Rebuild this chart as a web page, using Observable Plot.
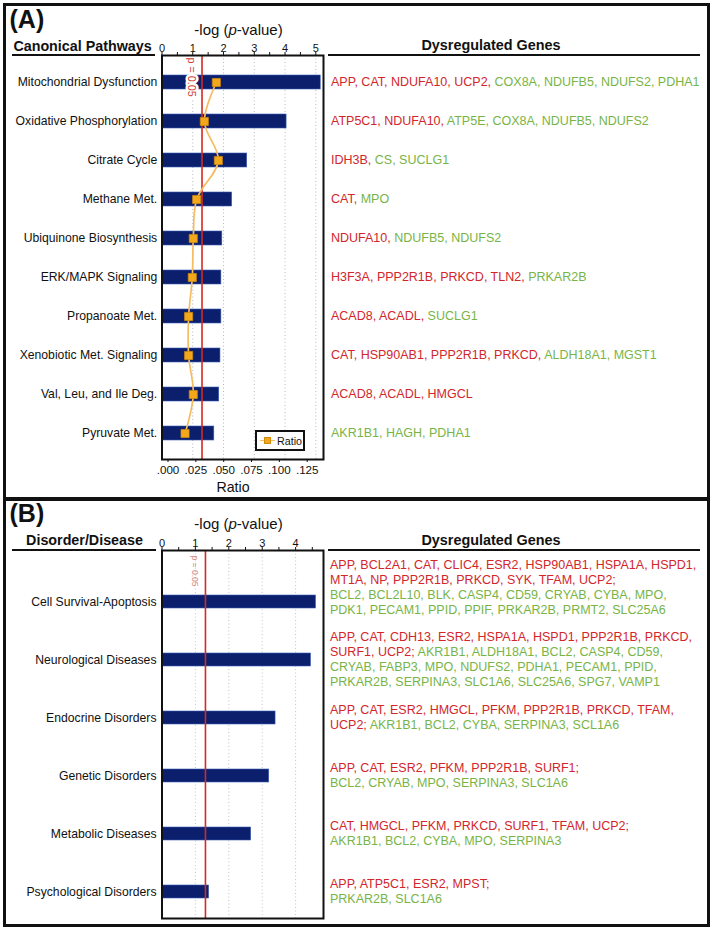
<!DOCTYPE html>
<html><head><meta charset="utf-8">
<script src="https://cdn.jsdelivr.net/npm/d3@7"></script>
<script src="https://cdn.jsdelivr.net/npm/@observablehq/plot@0.6"></script>
<style>
html,body{margin:0;padding:0;background:#fff;}
#root{position:relative;width:713px;height:930px;overflow:hidden;font-family:'Liberation Sans',Arial,sans-serif;color:#111;}
.abs{position:absolute;white-space:nowrap;}
.up{color:#d2262b;} .down{color:#78b446;}
#root svg{position:absolute;left:0;}
</style></head><body><div id="root"></div>
<script>
// ---------- data ----------
const pathways = ["Mitochondrial Dysfunction","Oxidative Phosphorylation","Citrate Cycle","Methane Met.","Ubiquinone Biosynthesis","ERK/MAPK Signaling","Propanoate Met.","Xenobiotic Met. Signaling","Val, Leu, and Ile Deg.","Pyruvate Met."];
const pathwayLogP = [5.16,4.05,2.77,2.28,1.96,1.93,1.93,1.90,1.86,1.70];
const pathwayRatio = [0.0488,0.0380,0.0506,0.0311,0.0281,0.0272,0.0239,0.0239,0.0281,0.0207];
const pathwayUp = [["APP","CAT","NDUFA10","UCP2"],["ATP5C1","NDUFA10"],["IDH3B"],["CAT"],["NDUFA10"],["H3F3A","PPP2R1B","PRKCD","TLN2"],["ACAD8","ACADL"],["CAT","HSP90AB1","PPP2R1B","PRKCD"],["ACAD8","ACADL","HMGCL"],[]];
const pathwayDown = [["COX8A","NDUFB5","NDUFS2","PDHA1"],["ATP5E","COX8A","NDUFB5","NDUFS2"],["CS","SUCLG1"],["MPO"],["NDUFB5","NDUFS2"],["PRKAR2B"],["SUCLG1"],["ALDH18A1","MGST1"],[],["AKR1B1","HAGH","PDHA1"]];

const disorders = ["Cell Survival-Apoptosis","Neurological Diseases","Endocrine Disorders","Genetic Disorders","Metabolic Diseases","Psychological Disorders"];
const disorderLogP = [4.61,4.46,3.40,3.21,2.67,1.41];
const disorderUp = [
 ["APP","BCL2A1","CAT","CLIC4","ESR2","HSP90AB1","HSPA1A","HSPD1","MT1A","NP","PPP2R1B","PRKCD","SYK","TFAM","UCP2"],
 ["APP","CAT","CDH13","ESR2","HSPA1A","HSPD1","PPP2R1B","PRKCD","SURF1","UCP2"],
 ["APP","CAT","ESR2","HMGCL","PFKM","PPP2R1B","PRKCD","TFAM","UCP2"],
 ["APP","CAT","ESR2","PFKM","PPP2R1B","SURF1"],
 ["CAT","HMGCL","PFKM","PRKCD","SURF1","TFAM","UCP2"],
 ["APP","ATP5C1","ESR2","MPST"]];
const disorderDown = [
 ["BCL2","BCL2L10","BLK","CASP4","CD59","CRYAB","CYBA","MPO","PDK1","PECAM1","PPID","PPIF","PRKAR2B","PRMT2","SLC25A6"],
 ["AKR1B1","ALDH18A1","BCL2","CASP4","CD59","CRYAB","FABP3","MPO","NDUFS2","PDHA1","PECAM1","PPID","PRKAR2B","SERPINA3","SLC1A6","SLC25A6","SPG7","VAMP1"],
 ["AKR1B1","BCL2","CYBA","SERPINA3","SCL1A6"],
 ["BCL2","CRYAB","MPO","SERPINA3","SLC1A6"],
 ["AKR1B1","BCL2","CYBA","MPO","SERPINA3"],
 ["PRKAR2B","SLC1A6"]];
const downOnNewLine = [true,false,false,true,true,true];

const pTicksA = [0,1,2,3,4,5];
const pTicksB = [0,1,2,3,4];
const ratioTicks = [0,0.025,0.05,0.075,0.1,0.125];
const ratioTickLabels = [".000",".025",".050",".075",".100",".125"];
const pCutoff = 0.05;
const pCutoffLabel = "p = 0.05";
const panelLabels = ["(A)","(B)"];
const leftHeaders = ["Canonical Pathways","Disorder/Disease"];
const rightHeader = "Dysregulated Genes";
const topAxisTitle = "-log (<i>p</i>-value)";
const bottomAxisTitle = "Ratio";
const legendLabel = "Ratio";

// ---------- style ----------
const FONT = "'Liberation Sans', Arial, sans-serif";
const NAVY = "#0b1f6d", BARSTROKE = "#3d5fb5";
const RED = "#d42a22", ORANGE = "#f3a81c", ORANGE_LINE = "#f5bc62";
const GENE_FONT = 12.5, GENE_LH = 15;
const root = document.getElementById("root");

function placeText(html, x, baseline, size, opts = {}) {
  const d = document.createElement("div");
  d.className = "abs";
  d.innerHTML = html;
  d.style.fontSize = size + "px";
  d.style.lineHeight = size + "px";
  d.style.top = (baseline - 0.8465 * size) + "px";
  d.style.left = x + "px";
  if (opts.anchor === "middle") d.style.transform = "translateX(-50%)";
  if (opts.anchor === "end") d.style.transform = "translateX(-100%)";
  if (opts.bold) d.style.fontWeight = "bold";
  if (opts.color) d.style.color = opts.color;
  root.appendChild(d);
  return d;
}
function box(x, y, w, h, css) {
  const d = document.createElement("div");
  d.style.position = "absolute";
  d.style.left = x + "px"; d.style.top = y + "px";
  d.style.width = w + "px"; d.style.height = h + "px";
  d.style.boxSizing = "border-box";
  Object.assign(d.style, css || {});
  root.appendChild(d);
  return d;
}
// each gene is its own span (with its trailing punctuation)
function geneSpans(list, cls, lastPunct) {
  return list.map((g, i) => `<span class="${cls}">${g}${i < list.length - 1 ? "," : lastPunct}</span>`).join(" ");
}

const thresh = -Math.log10(pCutoff);

// ---------- panel A ----------
const xDomainA = [0, 5.25];
const ratioDomain = [0, 0.145];
const k = xDomainA[1] / ratioDomain[1];
const dataA = pathways.map((name, i) => ({name, logp: pathwayLogP[i], ratio: pathwayRatio[i]}));
const minorA = d3.range(0, pTicksA[pTicksA.length - 1] + 0.01, 0.5);

const plotA = Plot.plot({
  width: 713, height: 497,
  marginLeft: 161.5, marginRight: 390, marginTop: 55, marginBottom: 38,
  style: {fontFamily: FONT, background: "transparent", overflow: "visible"},
  x: {domain: xDomainA},
  y: {domain: pathways, paddingInner: 0.647, paddingOuter: 0.4155, align: 0.515},
  marks: [
    Plot.ruleX(pTicksA.slice(1), {stroke: "#b8b8b8", strokeDasharray: "1,2.5", strokeWidth: 1}),
    Plot.barX(dataA, {x: "logp", y: "name", fill: NAVY, stroke: BARSTROKE, strokeWidth: 0.6}),
    Plot.text([{x: thresh, t: pCutoffLabel}], {x: "x", text: "t", frameAnchor: "top", rotate: 90, textAnchor: "start", dx: -6.3, dy: 2, fill: "#cf3a30", stroke: "white", strokeWidth: 5, fontSize: 10.8}),
    Plot.ruleX([thresh], {stroke: RED, strokeWidth: 1.6}),
    Plot.line(dataA, {x: d => d.ratio * k, y: "name", curve: "catmull-rom", stroke: ORANGE_LINE, strokeWidth: 1.7}),
    Plot.dot(dataA, {x: d => d.ratio * k, y: "name", symbol: "square", r: 4.6, fill: ORANGE, stroke: "#d08a0c", strokeWidth: 0.7}),
    Plot.frame({stroke: "#111", strokeWidth: 2}),
    Plot.axisX({anchor: "top", ticks: minorA, tickSize: 4, tickPadding: 0, fontSize: 11, label: null,
      tickFormat: d => Number.isInteger(d) && pTicksA.includes(d) ? String(d) : ""}),
    Plot.axisX(ratioTicks.map(r => r * k), {anchor: "bottom", tickSize: 3, tickPadding: 3.5, fontSize: 11.6, dx: 6, label: null,
      tickFormat: d => ratioTickLabels[ratioTicks.findIndex(r => Math.abs(r * k - d) < 1e-9)]}),
    Plot.axisY({tickSize: 0, tickPadding: 4.8, fontSize: 12.2, label: null})
  ]
});
plotA.style.top = "0px";
root.appendChild(plotA);

// ---------- panel B ----------
const topB = 497;
const xDomainB = [0, 4.835];
const dataB = disorders.map((name, i) => ({name, logp: disorderLogP[i]}));
const minorB = d3.range(0, pTicksB[pTicksB.length - 1] + 0.51, 0.5);
const plotB = Plot.plot({
  width: 713, height: 930 - topB,
  marginLeft: 161.5, marginRight: 390, marginTop: 53, marginBottom: 12,
  style: {fontFamily: FONT, background: "transparent", overflow: "visible"},
  x: {domain: xDomainB},
  y: {domain: disorders, paddingInner: 0.777, paddingOuter: 0.55, align: 0.695},
  marks: [
    Plot.ruleX(pTicksB.slice(1), {stroke: "#c4c4c4", strokeDasharray: "1,2.5", strokeWidth: 1}),
    Plot.barX(dataB, {x: "logp", y: "name", fill: NAVY, stroke: BARSTROKE, strokeWidth: 0.6}),
    Plot.text([{x: thresh, t: pCutoffLabel}], {x: "x", text: "t", frameAnchor: "top", rotate: 90, textAnchor: "start", dx: -7, dy: 5, fill: "#d98a80", fontSize: 8.5}),
    Plot.ruleX([thresh], {stroke: RED, strokeWidth: 1.6}),
    Plot.frame({stroke: "#111", strokeWidth: 2}),
    Plot.axisX({anchor: "top", ticks: minorB, tickSize: 4, tickPadding: 0, fontSize: 11, label: null,
      tickFormat: d => Number.isInteger(d) && pTicksB.includes(d) ? String(d) : ""}),
    Plot.axisY({tickSize: 0, tickPadding: 5.5, fontSize: 12.2, label: null})
  ]
});
plotB.style.top = topB + "px";
root.appendChild(plotB);

// ---------- borders ----------
box(3, 3, 707, 924, {border: "3px solid #111"});
box(3, 497, 707, 4, {background: "#111"});

// ---------- headers ----------
placeText(panelLabels[0], 9.5, 28.5, 25, {bold: true});
placeText(panelLabels[1], 9.5, 522, 25, {bold: true});
placeText(topAxisTitle, 238.5, 34.5, 15, {anchor: "middle"});
placeText(topAxisTitle, 238.5, 529, 15, {anchor: "middle"});
placeText(leftHeaders[0], 82.5, 51, 14.3, {anchor: "middle", bold: true});
placeText(leftHeaders[1], 84.5, 545.5, 14.3, {anchor: "middle", bold: true});
placeText(rightHeader, 491, 50.5, 14.4, {anchor: "middle", bold: true});
placeText(rightHeader, 491, 545.5, 14.4, {anchor: "middle", bold: true});
box(12, 54, 143, 2, {background: "#111"});
box(328, 54, 372, 2, {background: "#111"});
box(12, 549, 144, 2, {background: "#111"});
box(328, 549, 372, 2, {background: "#111"});
placeText(bottomAxisTitle, 233, 492, 14.2, {anchor: "middle"});

// ---------- legend ----------
box(255, 429.5, 49.5, 21.5, {border: "2px solid #111", background: "#fff"});
box(260, 439.8, 15, 1.6, {background: ORANGE_LINE});
box(263.5, 437, 7, 7, {background: ORANGE, border: "0.6px solid #d08a0c"});
placeText(legendLabel, 277, 444.8, 10.7);

// ---------- gene lists ----------
const yA = plotA.scale("y");
pathways.forEach((name, i) => {
  const cy = yA.apply(name) + yA.bandwidth / 2;
  const up = pathwayUp[i], down = pathwayDown[i];
  const parts = [];
  if (up.length) parts.push(geneSpans(up, "up", down.length ? "," : ""));
  if (down.length) parts.push(geneSpans(down, "down", ""));
  const d = document.createElement("div");
  d.className = "abs";
  d.innerHTML = parts.join(" ");
  Object.assign(d.style, {left: "331px", top: (cy - GENE_LH / 2) + "px", fontSize: GENE_FONT + "px", lineHeight: GENE_LH + "px"});
  root.appendChild(d);
});

const yB = plotB.scale("y");
const blockGap = 12;
const blocksB = disorders.map((name, i) => {
  const cy = topB + yB.apply(name) + yB.bandwidth / 2;
  const up = disorderUp[i], down = disorderDown[i];
  let html = up.length ? geneSpans(up, "up", down.length ? ";" : "") : "";
  if (up.length && down.length) html += downOnNewLine[i] ? "<br>" : " ";
  if (down.length) html += geneSpans(down, "down", "");
  const d = document.createElement("div");
  d.innerHTML = html;
  Object.assign(d.style, {position: "absolute", left: "330px", width: "368px", fontSize: GENE_FONT + "px", lineHeight: GENE_LH + "px", whiteSpace: "normal"});
  root.appendChild(d);
  return {d, cy, h: d.offsetHeight};
});
// centre each block on its bar, but keep a gap above the block below it
let nextTop = Infinity;
for (let i = blocksB.length - 1; i >= 0; i--) {
  const b = blocksB[i];
  const top = Math.min(b.cy - b.h / 2, nextTop - blockGap - b.h);
  b.d.style.top = top + "px";
  nextTop = top;
}
</script></body></html>
